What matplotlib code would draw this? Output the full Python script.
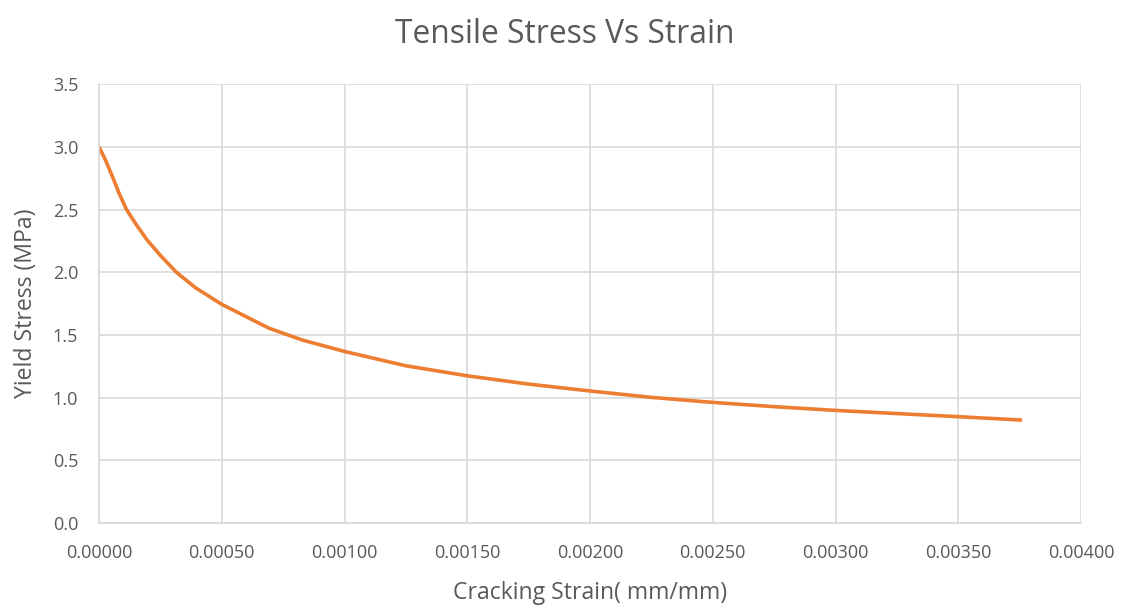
import matplotlib
matplotlib.use("Agg")
import matplotlib.pyplot as plt
from matplotlib.ticker import FormatStrFormatter

strain = [0, 0.0000273, 0.0000544, 0.0000816, 0.000112, 0.00015, 0.000196, 0.000252,
          0.000315, 0.000394, 0.0005, 0.000693,
          0.000829, 0.001, 0.00125, 0.0015, 0.00175, 0.002, 0.00225, 0.0025,
          0.00275, 0.003, 0.0035, 0.00376]
stress = [3.0, 2.89, 2.765, 2.63, 2.5, 2.385, 2.257, 2.13,
          2.0, 1.875, 1.744, 1.553,
          1.459, 1.368, 1.254, 1.174, 1.108, 1.053, 1.002, 0.962,
          0.928, 0.898, 0.848, 0.821]

x_ticks = [0, 0.0005, 0.001, 0.0015, 0.002, 0.0025, 0.003, 0.0035, 0.004]
y_ticks = [0, 0.5, 1.0, 1.5, 2.0, 2.5, 3.0, 3.5]

plt.rcParams['font.family'] = ['Open Sans', 'DejaVu Sans']
text_c = '#595959'
fig = plt.figure(figsize=(11.29, 6.10), dpi=100)
ax = fig.add_axes([0.0877, 0.1426, 0.8698, 0.7194])
ax.plot(strain, stress, color='#ED7D31', lw=2.6, solid_capstyle='butt',
        solid_joinstyle='round')
ax.set_xlim(0, 0.004)
ax.set_ylim(0, 3.5)
ax.set_xticks(x_ticks)
ax.set_yticks(y_ticks)
ax.xaxis.set_major_formatter(FormatStrFormatter('%.5f'))
ax.yaxis.set_major_formatter(FormatStrFormatter('%.1f'))
ax.grid(True, color='#D9D9D9', lw=1.2)
ax.set_axisbelow(True)
for s in ['top', 'right']:
    ax.spines[s].set_visible(False)
for s in ['left', 'bottom']:
    ax.spines[s].set_color('#D9D9D9')
    ax.spines[s].set_linewidth(1.2)
ax.tick_params(length=0, labelsize=13, colors=text_c)
ax.tick_params(axis='x', pad=15)
ax.tick_params(axis='y', pad=15)
ax.set_xlabel('Cracking Strain( mm/mm)', fontsize=16.6, color=text_c, labelpad=14)
ax.set_ylabel('Yield Stress (MPa)', fontsize=16.6, color=text_c, labelpad=11)
fig.suptitle('Tensile Stress Vs Strain', fontsize=22.9, color=text_c, y=0.97)
fig.savefig('out.png', dpi=100)
